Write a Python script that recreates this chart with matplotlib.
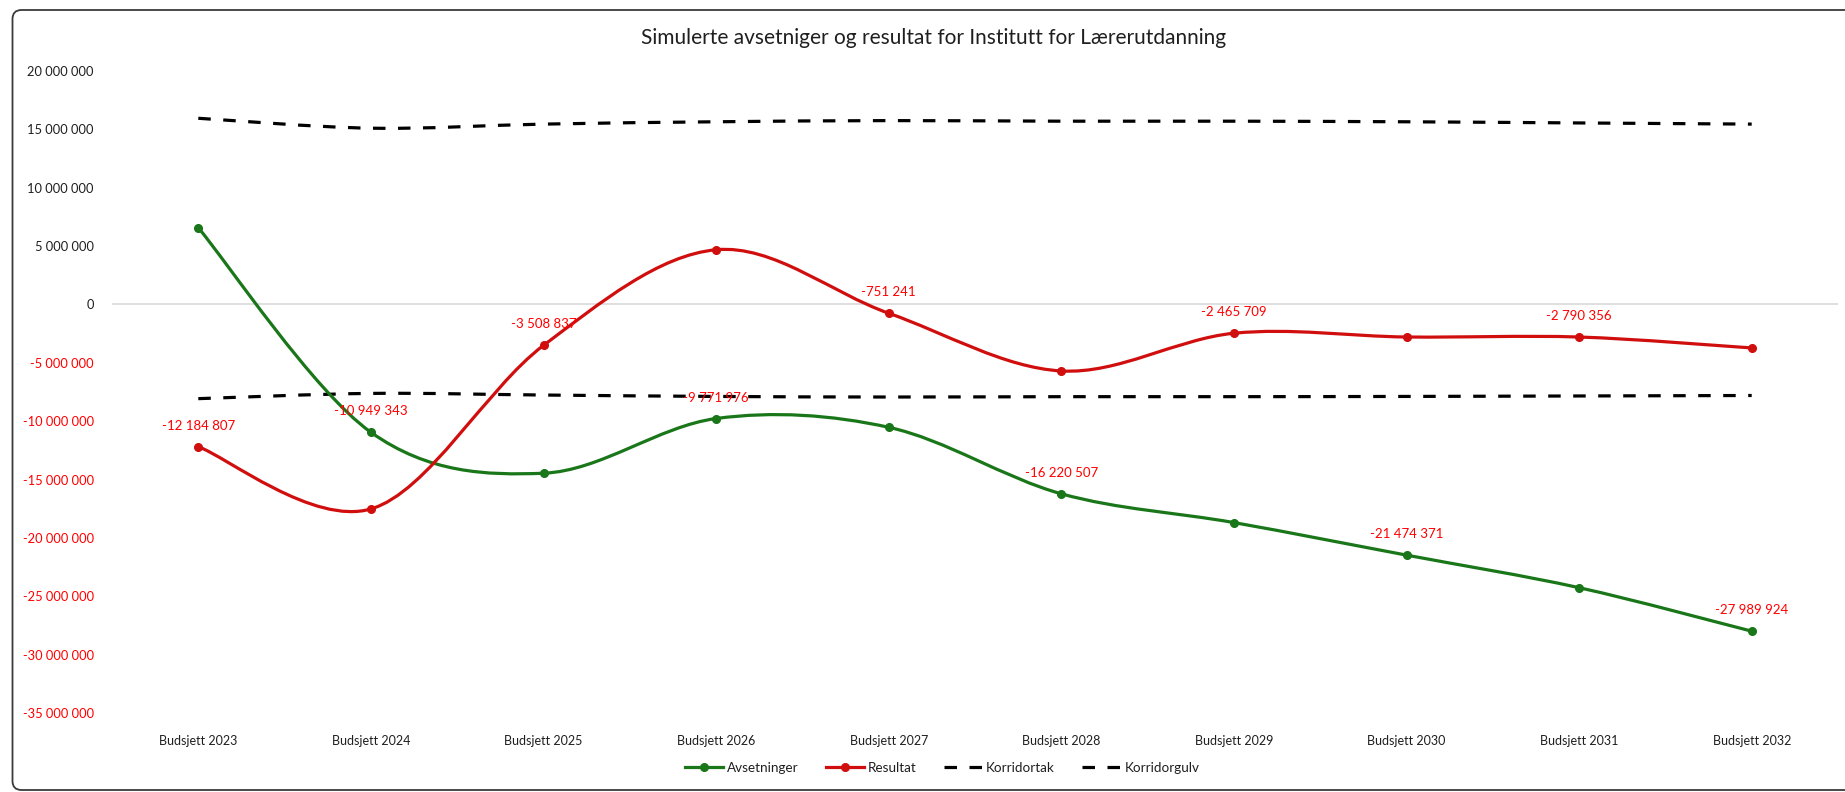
import numpy as np
import matplotlib
matplotlib.use("Agg")
import matplotlib.pyplot as plt
from matplotlib.path import Path
from matplotlib.patches import PathPatch, FancyBboxPatch
from matplotlib.lines import Line2D
from matplotlib.transforms import IdentityTransform

plt.rcParams['font.family'] = ['Lato', 'DejaVu Sans']
plt.rcParams['lines.scale_dashes'] = False

# ---------------- data ----------------
categories = ["Budsjett 2023", "Budsjett 2024", "Budsjett 2025", "Budsjett 2026", "Budsjett 2027",
              "Budsjett 2028", "Budsjett 2029", "Budsjett 2030", "Budsjett 2031", "Budsjett 2032"]
avsetninger = [6_570_000, -10_949_343, -14_458_180, -9_771_976, -10_523_217,
               -16_220_507, -18_686_216, -21_474_371, -24_264_727, -27_989_924]
resultat = [-12_184_807, -17_519_343, -3_508_837, 4_686_204, -751_241,
            -5_697_290, -2_465_709, -2_788_155, -2_790_356, -3_725_197]
korridortak = [15_950_000, 15_100_000, 15_450_000, 15_650_000, 15_750_000,
               15_700_000, 15_700_000, 15_650_000, 15_550_000, 15_450_000]
korridorgulv = [-8_070_000, -7_620_000, -7_760_000, -7_880_000, -7_930_000,
                -7_900_000, -7_900_000, -7_880_000, -7_840_000, -7_800_000]
# which series carries the data label at each category
label_series = ["Resultat", "Avsetninger", "Resultat", "Avsetninger", "Resultat",
                "Avsetninger", "Resultat", "Avsetninger", "Resultat", "Avsetninger"]
title = "Simulerte avsetniger og resultat for Institutt for Lærerutdanning"
y_ticks = list(range(-35_000_000, 20_000_001, 5_000_000))

GREEN = "#197619"
RED = "#d10e0e"
LABEL_RED = "#ff0000"
TEXT = "#1f1f1f"


def fmt(v):
    return f"{int(round(v)):,}".replace(",", " ")


def smooth_path(x, y):
    pts = np.column_stack([np.asarray(x, float), np.asarray(y, float)])
    n = len(pts)
    verts = [pts[0]]
    codes = [Path.MOVETO]
    for i in range(n - 1):
        p0 = pts[i - 1] if i > 0 else pts[i]
        p1 = pts[i]
        p2 = pts[i + 1]
        p3 = pts[i + 2] if i + 2 < n else pts[i + 1]
        c1 = p1 + (p2 - p0) / 6.0
        c2 = p2 - (p3 - p1) / 6.0
        verts += [c1, c2, p2]
        codes += [Path.CURVE4] * 3
    return Path(np.array(verts), codes)


W, H = 1845, 792
fig = plt.figure(figsize=(W / 100, H / 100), dpi=100)
ax = fig.add_axes([112 / W, 1 - 713 / H, (1838 - 112) / W, (713 - 71) / H])

x = np.arange(len(categories))

dash = (0, (9.0, 9.0))
for vals, col, ls in [(korridortak, "black", dash), (korridorgulv, "black", dash),
                      (avsetninger, GREEN, "-"), (resultat, RED, "-")]:
    patch = PathPatch(smooth_path(x, vals), fill=False, edgecolor=col, lw=2.3,
                      linestyle=ls, capstyle="butt", joinstyle="round", zorder=3)
    ax.add_patch(patch)

ax.plot(x, avsetninger, linestyle="none", marker="o", ms=5.5, color=GREEN, zorder=4)
ax.plot(x, resultat, linestyle="none", marker="o", ms=5.5, color=RED, zorder=4)

series = {"Avsetninger": avsetninger, "Resultat": resultat}
for i, s in enumerate(label_series):
    v = series[s][i]
    ax.annotate(fmt(v), (x[i], v), xytext=(0, 21), textcoords="offset pixels",
                ha="center", va="center", fontsize=9.5,
                color=LABEL_RED if v < 0 else TEXT, zorder=5)

ax.axhline(0, color="#d9d9d9", lw=1.2, zorder=1)
ax.set_xlim(-0.5, len(categories) - 0.5)
ax.set_ylim(-35_000_000, 20_000_000)
ax.set_yticks(y_ticks)
ax.set_yticklabels([fmt(t) for t in y_ticks])
for t, lab in zip(y_ticks, ax.get_yticklabels()):
    lab.set_color(LABEL_RED if t < 0 else TEXT)
ax.set_xticks(x)
ax.set_xticklabels(categories)
ax.tick_params(axis="y", length=0, pad=13, labelsize=9.3)
ax.tick_params(axis="x", length=0, pad=16, labelsize=9, labelcolor=TEXT)
for sp in ax.spines.values():
    sp.set_visible(False)
ax.patch.set_alpha(0)

fig.text(934 / W, 1 - 38 / H, title, ha="center", va="center", fontsize=15, color=TEXT)

handles = [
    Line2D([], [], color=GREEN, lw=2.3, marker="o", ms=5.5),
    Line2D([], [], color=RED, lw=2.3, marker="o", ms=5.5),
    Line2D([], [], color="black", lw=2.3, linestyle=(0, (9, 9))),
    Line2D([], [], color="black", lw=2.3, linestyle=(0, (9, 9))),
]
fig.legend(handles, ["Avsetninger", "Resultat", "Korridortak", "Korridorgulv"],
           loc="center", bbox_to_anchor=(942 / W, 1 - 768 / H), ncol=4, frameon=False,
           fontsize=9.7, handlelength=2.85, columnspacing=2.0, handletextpad=0.3,
           labelcolor=TEXT)

border = FancyBboxPatch((12.5, 2), 1950, 780, boxstyle="round,pad=0,rounding_size=9",
                        transform=IdentityTransform(), fill=False, edgecolor="#3a3a3a",
                        lw=1.3, clip_on=False)
fig.patches.append(border)

fig.savefig("out.png", dpi=100)
